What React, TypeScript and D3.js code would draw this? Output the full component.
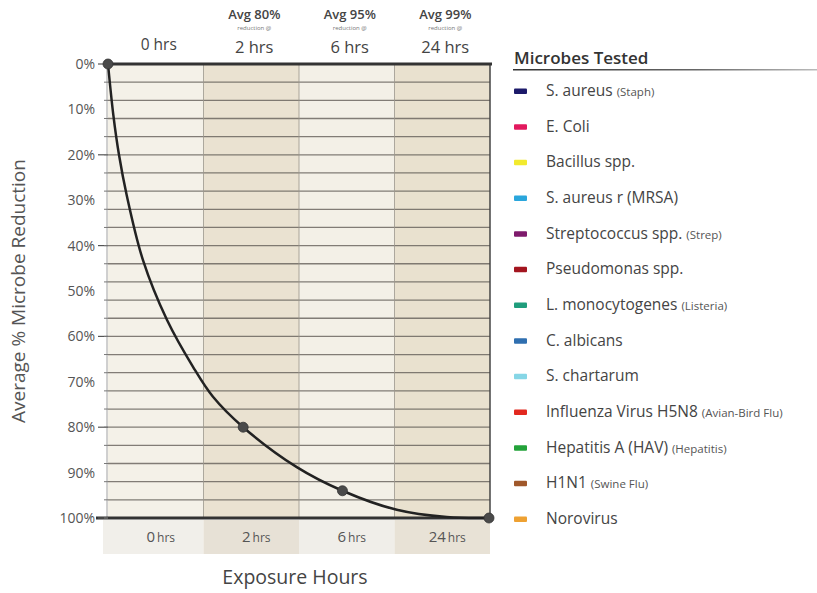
import React from "react";
import * as d3 from "d3";

// ---- data ----
const columns = ["0", "2", "6", "24"];
const columnHours = [0, 2, 6, 24];
const headerAvg = ["", "Avg 80%", "Avg 95%", "Avg 99%"];
const pointHours = [0, 2, 6, 24];
const pointReduction = [0, 80, 94, 100];
// curve samples (hours, % reduction)
const curveHours = [0, 0.042, 0.089, 0.157, 0.316, 0.597, 0.975, 1.33, 2, 3.73, 6, 10.2, 16.3, 24];
const curveReduction = [0, 11.2, 20, 28.9, 43.2, 56.4, 66.7, 73.3, 80, 88.8, 94, 98.2, 99.8, 100];
const yTickLabels = [0, 10, 20, 30, 40, 50, 60, 70, 80, 90, 100];
const gridValues = d3.range(0, 101, 4);
const majorTicks = [0, 20, 40, 60, 80, 100];
const microbes = [
  "S. aureus", "E. Coli", "Bacillus spp.", "S. aureus r (MRSA)", "Streptococcus spp.",
  "Pseudomonas spp.", "L. monocytogenes", "C. albicans", "S. chartarum",
  "Influenza Virus H5N8", "Hepatitis A (HAV)", "H1N1", "Norovirus",
];
const microbeNotes = [
  "(Staph)", "", "", "", "(Strep)", "", "(Listeria)", "", "", "(Avian-Bird Flu)", "(Hepatitis)", "(Swine Flu)", "",
];
const microbeColors = [
  "#1c1a6a", "#e2195e", "#f2ea2e", "#2aa6dc", "#7e1a6c", "#a3151f", "#1f9d7c",
  "#2f6fb0", "#86d6e6", "#e2291f", "#23a23a", "#a0582a", "#eea132",
];

const W = 817, H = 593;
const M = { left: 108, right: 490, top: 64, bottom: 518 };
const FONT = "'Open Sans', 'Noto Sans', sans-serif";

export default function App() {
  const band = d3.scaleBand<string>().domain(columns).range([M.left, M.right]).padding(0);
  const x = d3.scaleSymlog().constant(0.88).domain([0, 24]).range([M.left, M.right - 1]);
  const y = d3.scaleLinear().domain([0, 100]).range([M.top, M.bottom]);
  const colFill = ["#f4f1e8", "#eae2d1", "#f3f0e7", "#e9e1cf"];
  const stripFill = ["#f1efea", "#e7e1d6", "#f0eee9", "#e8e2d6"];
  const line = d3
    .line<number>()
    .x((_, i) => x(curveHours[i]))
    .y((d) => y(d))
    .curve(d3.curveCatmullRom.alpha(0.5));
  const legendY = d3.scaleLinear().domain([0, microbes.length - 1]).range([91, 519]);
  const headerX = (c: string) => (band(c) as number) + band.bandwidth() / 2 + 3;

  return (
    <svg width={W} height={H} style={{ position: "absolute", left: 0, top: 0, background: "#fff" }} fontFamily={FONT}>
      {/* column backgrounds */}
      {columns.map((c, i) => (
        <rect key={"c" + c} x={band(c)} y={M.top} width={band.bandwidth()} height={M.bottom - M.top} fill={colFill[i]} />
      ))}
      {columns.map((c, i) => (
        <rect key={"s" + c} x={(band(c) as number) - (i === 0 ? 5 : 0)} y={M.bottom + 2} width={band.bandwidth() + (i === 0 ? 5 : 0)} height={34} fill={stripFill[i]} />
      ))}
      {/* grid lines */}
      {gridValues.map((g) => (
        <line key={"g" + g} x1={M.left} x2={M.right} y1={y(g)} y2={y(g)} stroke="#65605a" strokeWidth={1.3} opacity={0.8} />
      ))}
      {/* column separators */}
      {columns.slice(1).map((c) => (
        <line key={"v" + c} x1={band(c)} x2={band(c)} y1={M.top} y2={M.bottom} stroke="#9a958c" strokeWidth={0.8} />
      ))}
      <line x1={M.right} x2={M.right} y1={M.top} y2={M.bottom} stroke="#444" strokeWidth={1.5} />
      <line x1={M.left - 1} x2={M.left - 1} y1={M.top} y2={M.bottom} stroke="#888" strokeWidth={0.8} />
      {/* top & bottom frame */}
      <line x1={M.left - 2} x2={M.right + 2} y1={M.top} y2={M.top} stroke="#333" strokeWidth={3} />
      <line x1={M.left - 12} x2={M.right} y1={M.bottom} y2={M.bottom} stroke="#333" strokeWidth={3} />
      {/* y ticks */}
      {majorTicks.map((t) => (
        <line key={"t" + t} x1={M.left - 10} x2={M.left} y1={y(t)} y2={y(t)} stroke="#555" strokeWidth={1.2} />
      ))}
      {gridValues.map((g) => (
        <line key={"mt" + g} x1={M.left - 4} x2={M.left} y1={y(g)} y2={y(g)} stroke="#777" strokeWidth={1} />
      ))}
      {yTickLabels.map((t) => (
        <text key={"yl" + t} x={M.left - 13} y={y(t) + 5} textAnchor="end" fontSize={14} fill="#555">
          {t}%
        </text>
      ))}
      {/* curve */}
      <path d={line(curveReduction) || ""} fill="none" stroke="#222" strokeWidth={2.5} />
      {pointHours.map((h, i) => (
        <circle key={"p" + h} cx={x(h)} cy={y(pointReduction[i])} r={5} fill="#4a4a4a" stroke="#333" strokeWidth={0.8} />
      ))}
      {/* header labels */}
      {columns.map((c, i) => (
        <g key={"h" + c}>
          {headerAvg[i] && (
            <>
              <text x={headerX(c)} y={19} textAnchor="middle" fontSize={13} fontWeight={600} fill="#444">
                {headerAvg[i]}
              </text>
              <text x={headerX(c)} y={30} textAnchor="middle" fontSize={6} fill="#777">
                reduction @
              </text>
            </>
          )}
          <text x={headerX(c)} y={i === 0 ? 50 : 53} textAnchor="middle" fontSize={i === 0 ? 15.5 : 16.5} fill="#444">
            {columnHours[i]} hrs
          </text>
        </g>
      ))}
      {/* bottom labels */}
      {columns.map((c, i) => (
        <text key={"b" + c} x={headerX(c) + 2} y={542} textAnchor="middle" fill="#555">
          <tspan fontSize={15}>{columnHours[i]}</tspan>
          <tspan fontSize={12} dx={2}>hrs</tspan>
        </text>
      ))}
      <text x={295} y={584} textAnchor="middle" fontSize={19.5} fill="#444">
        Exposure Hours
      </text>
      <text transform={`translate(25,${(M.top + M.bottom) / 2}) rotate(-90)`} textAnchor="middle" fontSize={19} fill="#555">
        Average % Microbe Reduction
      </text>
      {/* legend */}
      <text x={514} y={64} fontSize={17} fontWeight={600} fill="#333">
        Microbes Tested
      </text>
      <defs>
        <linearGradient id="ul" x1="0" x2="1" y1="0" y2="0">
          <stop offset="0" stopColor="#333" />
          <stop offset="0.6" stopColor="#666" />
          <stop offset="1" stopColor="#bbb" />
        </linearGradient>
      </defs>
      <rect x={513} y={69} width={304} height={1.5} fill="url(#ul)" />
      {microbes.map((m, i) => (
        <g key={"l" + m}>
          <rect x={514} y={legendY(i) - 2.5} width={13} height={5.5} rx={1} fill={microbeColors[i]} />
          <text x={546} y={legendY(i) + 5} fontSize={15.5} fill="#444">
            {m}
            {microbeNotes[i] && (
              <tspan fontSize={11.5} fill="#555" dx={4}>
                {microbeNotes[i]}
              </tspan>
            )}
          </text>
        </g>
      ))}
    </svg>
  );
}
